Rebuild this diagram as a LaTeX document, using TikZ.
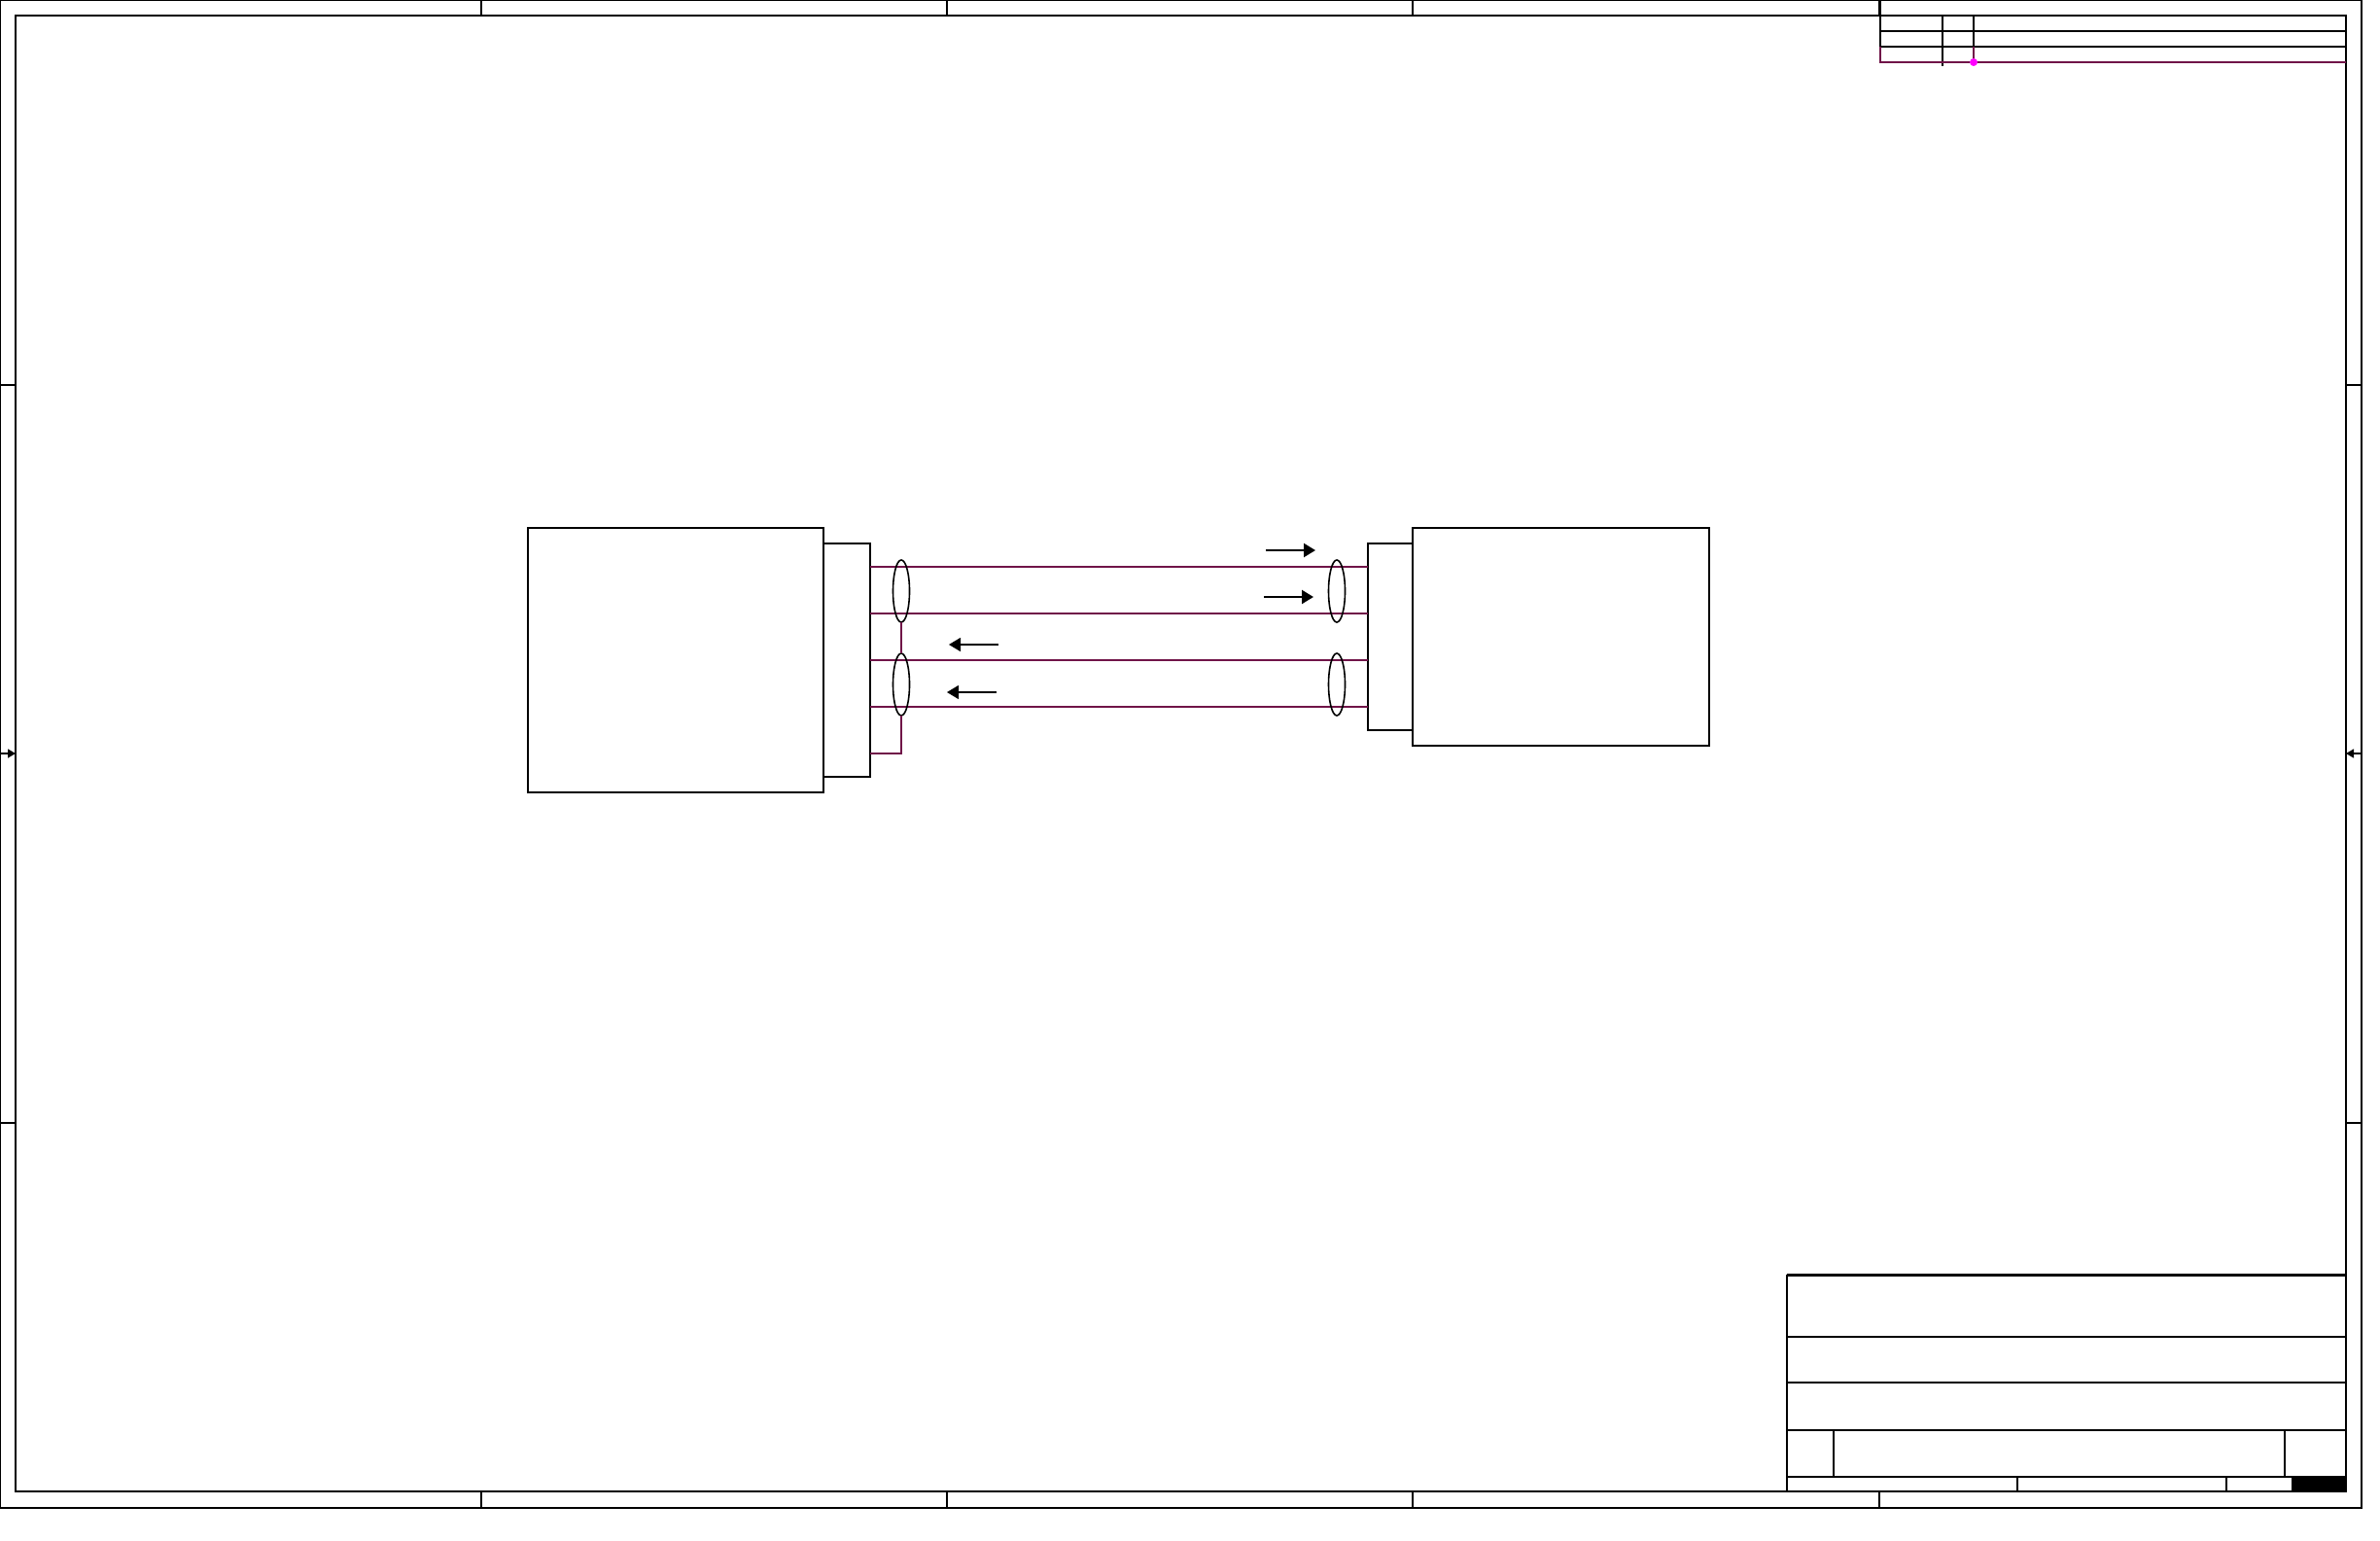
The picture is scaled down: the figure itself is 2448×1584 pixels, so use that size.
\documentclass[tikz,border=0pt]{standalone}
\usetikzlibrary{shapes.geometric,arrows.meta}
\definecolor{wire}{RGB}{112,20,72}
\definecolor{dotc}{RGB}{255,0,255}
\begin{document}
\begin{tikzpicture}[x=1pt,y=-1pt,
  frame/.style={line width=2.2pt,black},
  thinframe/.style={line width=1.4pt,black},
  blockbox/.style={draw,line width=1.6pt,rectangle,inner sep=0pt,outer sep=0pt,anchor=north west},
  shield/.style={draw,line width=1.6pt,ellipse,inner sep=0pt,outer sep=0pt,minimum width=17pt,minimum height=64pt},
  wireline/.style={line width=1.4pt,wire},
  flow/.style={line width=2.2pt,-{Triangle[length=12pt,width=14pt]}},
  flowthin/.style={line width=1.3pt,-{Triangle[length=12pt,width=14pt]}},
  edgearrow/.style={line width=1.4pt,-{Triangle[length=8pt,width=9pt]}}]
\useasboundingbox (0,0) rectangle (2448,1584);
\fill[white] (0,0) rectangle (2448,1584);

% outer and inner frames
\draw[thinframe] (0.7,0.7) rectangle (2429,1551);
\draw[frame] (16,16) rectangle (2413,1534);

% zone ticks top and bottom
\foreach \x in {495,974,1453,1933} {
  \draw[thinframe] (\x,0) -- (\x,16);
  \draw[thinframe] (\x,1534) -- (\x,1551);
}
% zone ticks left and right
\foreach \y in {396,1155} {
  \draw[thinframe] (0,\y) -- (16,\y);
  \draw[thinframe] (2413,\y) -- (2429,\y);
}
% centre arrows on sides
\coordinate (la) at (0,775);
\coordinate (lb) at (16,775);
\coordinate (ra) at (2429,775);
\coordinate (rb) at (2413,775);
\draw[edgearrow] (la) -- (lb);
\draw[edgearrow] (ra) -- (rb);

% revision block
\draw[thinframe] (1934,0) -- (1934,48);
\draw[thinframe] (1934,32) -- (2413,32);
\draw[thinframe] (1934,48) -- (2413,48);
\draw[thinframe] (1998,16) -- (1998,68);
\draw[thinframe] (2030,16) -- (2030,48);
\draw[wireline,line width=1.8pt] (1934,48) -- (1934,64) -- (2413,64);
\draw[wireline,line width=1.8pt] (2030,48) -- (2030,64);
\node[circle,fill=dotc,inner sep=0pt,minimum size=8pt] (dot) at (2030,64) {};

% title block
\draw[line width=3pt] (1838,1311) -- (2413,1311);
\draw[line width=2.6pt] (1838,1311) -- (1838,1471);
\draw[thinframe] (1838,1375) -- (2413,1375);
\draw[thinframe] (1838,1422) -- (2413,1422);
\draw[line width=1.8pt] (1838,1471) -- (2413,1471);
\draw[thinframe] (1838,1471) -- (1838,1534);
\draw[line width=1.8pt] (1886,1471) -- (1886,1519);
\draw[line width=1.8pt] (2350,1471) -- (2350,1519);
\draw[thinframe] (1838,1519) -- (2413,1519);
\draw[line width=1.8pt] (2075,1519) -- (2075,1534);
\draw[thinframe] (2290,1519) -- (2290,1534);
\fill[black] (2357,1519) rectangle (2413,1534);

% boxes
\node[blockbox,minimum width=304pt,minimum height=272pt] (devA) at (543,543) {};
\node[blockbox,minimum width=48pt,minimum height=240pt] (jA) at (847,559) {};
\draw[line width=2.4pt] (jA.north east) -- (jA.south east);
\node[blockbox,line width=1.2pt,minimum width=46pt,minimum height=192pt] (jB) at (1407,559) {};
\node[blockbox,line width=1.2pt,minimum width=305pt,minimum height=224pt] (devB) at (1453,543) {};

% wires
\foreach \y/\n in {583/w1,631/w2,679/w3,727/w4} {
  \coordinate (\n a) at (jA.east |- 0,\y);
  \coordinate (\n b) at (jB.west |- 0,\y);
  \draw[wireline] (\n a) -- (\n b);
}

% shields
\node[shield] (s1) at (927,608) {};
\node[shield] (s2) at (927,704) {};
\node[shield] (s3) at (1375,608) {};
\node[shield] (s4) at (1375,704) {};
\coordinate (gnd) at (927,775);
\draw[wireline,line width=2pt] (s1.south) -- (s2.north);
\draw[wireline,line width=2pt] (s2.south) -- (gnd) -- (jA.east |- gnd);

% direction arrows
\coordinate (a1t) at (1302,566); \coordinate (a1h) at (1353,566);
\coordinate (a2t) at (1300,614); \coordinate (a2h) at (1351,614);
\coordinate (a3t) at (1027,663); \coordinate (a3h) at (976,663);
\coordinate (a4t) at (1025,712); \coordinate (a4h) at (974,712);
\draw[flow] (a1t) -- (a1h);
\draw[flow] (a2t) -- (a2h);
\draw[flowthin] (a3t) -- (a3h);
\draw[flowthin] (a4t) -- (a4h);
\end{tikzpicture}
\end{document}
